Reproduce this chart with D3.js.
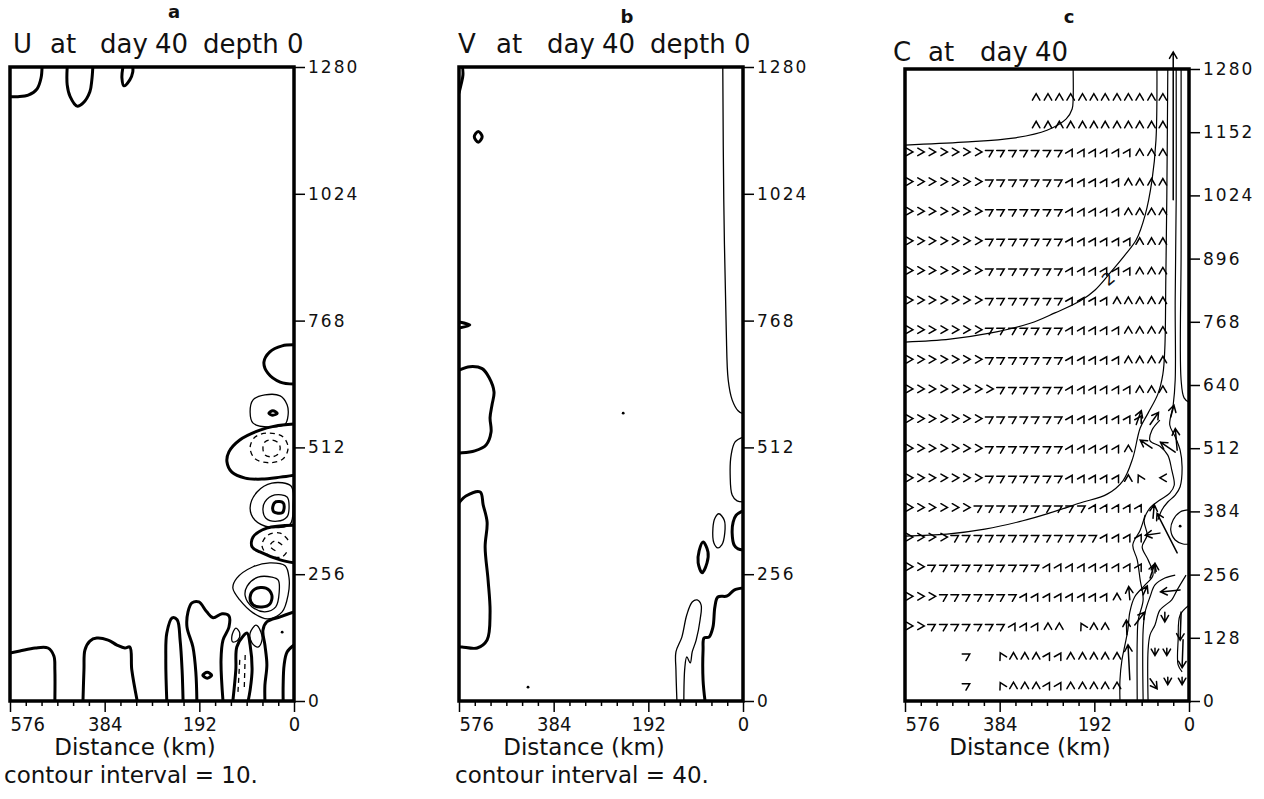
<!DOCTYPE html>
<html>
<head>
<meta charset="utf-8">
<script src="https://cdn.jsdelivr.net/npm/d3@7/dist/d3.min.js"></script>
<style>
  html, body { margin: 0; padding: 0; background: #fff; }
  svg text { font-family: "DejaVu Sans", "Liberation Sans", sans-serif; fill: #111; }
  .frame { fill: none; stroke: #000; stroke-width: 3.5; }
  .zero  { fill: none; stroke: #000; stroke-width: 3; stroke-linejoin: round; stroke-linecap: round; }
  .pos   { fill: none; stroke: #000; stroke-width: 1.3; stroke-linejoin: round; }
  .neg   { fill: none; stroke: #000; stroke-width: 1.3; stroke-dasharray: 5 4; }
  .ccon  { fill: none; stroke: #000; stroke-width: 1.2; stroke-linejoin: round; }
  .vec   { fill: none; stroke: #000; stroke-width: 1.5; stroke-linejoin: miter; stroke-linecap: round; }
  .axis path.domain { display: none; }
  .axis line { stroke: #000; stroke-width: 1.5; }
</style>
</head>
<body>
<svg id="fig" width="1264" height="799" viewBox="0 0 1264 799"></svg>
<script>
// ---------------- axis values (km) ----------------
const distDomain = [576, 0];
const depthDomain = [0, 1280];
const distTickLabels = [576, 384, 192, 0];
const depthTicksUV = [0, 256, 512, 768, 1024, 1280];
const depthTicksC = [0, 128, 256, 384, 512, 640, 768, 896, 1024, 1152, 1280];

// ---------------- U field: contour lines, points are [distance km, alongshore km] ----------------
const uZeroLines = [
  {closed: false, pts: [[576,1220],[560,1220],[539,1223],[521,1236],[513,1258],[511,1280]]},
  {closed: false, pts: [[460,1280],[460,1244],[454,1220],[440,1201],[428,1207],[414,1230],[410,1254],[408,1280]]},
  {closed: false, pts: [[347,1280],[349,1258],[345,1242],[333,1254],[327,1270],[327,1280]]},
  {closed: false, pts: [[0,719],[24,717],[49,705],[61,684],[53,662],[28,644],[0,640]]},
  {closed: true,  pts: [[51,581],[43,586],[34,581],[43,577]]},
  {closed: false, pts: [[0,559],[39,555],[69,547],[110,527],[132,503],[136,483],[126,462],[99,450],[65,448],[28,452],[0,456]]},
  {closed: true,  pts: [[22,400],[37,402],[43,392],[41,382],[24,380],[20,390]]},
  {closed: false, pts: [[0,355],[55,349],[83,331],[85,311],[69,301],[28,285],[0,279]]},
  {closed: true,  pts: [[57,228],[79,226],[89,210],[83,194],[65,190],[49,196],[45,214]]},
  {closed: false, pts: [[0,180],[28,170],[55,160],[63,143],[59,113],[55,73],[59,32],[59,0]]},
  {closed: false, pts: [[0,113],[14,99],[20,73],[22,32],[22,0]]},
  {closed: false, pts: [[124,0],[118,63],[116,109],[103,131],[95,137],[89,113],[85,63],[89,22],[93,0]]},
  {closed: false, pts: [[576,97],[556,101],[525,107],[499,107],[487,91],[485,63],[485,0]]},
  {closed: false, pts: [[428,0],[426,63],[424,103],[414,121],[400,127],[377,123],[359,113],[343,107],[333,109],[329,63],[318,0]]},
  {closed: false, pts: [[258,0],[260,83],[258,137],[247,168],[237,164],[231,123],[227,63],[225,0]]},
  {closed: false, pts: [[197,0],[199,57],[205,109],[217,149],[215,180],[207,198],[193,200],[177,180],[164,168],[146,176],[132,172],[132,149],[144,123],[148,83],[144,0]]},
  {closed: true,  pts: [[185,52],[176,58],[167,52],[176,46]]}
];
const uPositiveLines = [
  {closed: true, pts: [[14,598],[28,616],[59,618],[83,608],[89,583],[83,561],[49,553],[18,559],[12,577]]},
  {closed: true, pts: [[6,434],[45,440],[75,422],[89,390],[79,365],[49,351],[8,357],[2,396]]},
  {closed: true, pts: [[14,412],[39,416],[59,402],[63,386],[57,369],[34,363],[14,372],[10,392]]},
  {closed: true, pts: [[18,273],[49,279],[83,271],[116,248],[124,228],[110,204],[83,178],[53,166],[24,180],[12,214],[10,248]]},
  {closed: true, pts: [[45,250],[73,250],[95,232],[99,212],[85,190],[59,180],[37,190],[30,220],[32,244]]},
  {closed: true, pts: [[118,147],[110,137],[114,123],[124,119],[126,131]]},
  {closed: true, pts: [[77,153],[67,139],[65,123],[73,109],[85,117],[89,137]]}
];
const uNegativeLines = [
  {closed: true,  pts: [[12,511],[22,533],[51,541],[79,533],[89,511],[79,489],[51,481],[22,489]]},
  {closed: true,  pts: [[28,511],[34,523],[47,527],[59,523],[63,511],[59,497],[47,493],[34,497]]},
  {closed: false, pts: [[12,325],[28,339],[53,335],[65,315],[53,295],[24,291],[12,305]]},
  {closed: false, pts: [[24,315],[39,323],[49,313],[37,303]]},
  {closed: false, pts: [[110,83],[114,12]]},
  {closed: false, pts: [[99,93],[101,22]]}
];
const uDots = [[24,139]];

// ---------------- V field ----------------
const vZeroLines = [
  {closed: false, pts: [[576,1280],[570,1280],[568,1264],[572,1244],[576,1228]]},
  {closed: true,  pts: [[545,1139],[537,1150],[529,1139],[537,1128]]},
  {closed: false, pts: [[576,765],[554,759],[576,753]]},
  {closed: false, pts: [[576,668],[554,675],[529,671],[515,653],[505,624],[509,598],[513,572],[511,543],[521,517],[544,505],[570,501],[576,501]]},
  {closed: false, pts: [[576,400],[562,414],[533,422],[527,396],[519,361],[523,311],[517,244],[513,178],[519,123],[539,107],[570,109],[576,109]]},
  {closed: false, pts: [[0,384],[14,375],[20,361],[22,339],[18,315],[10,307],[0,305]]},
  {closed: true,  pts: [[81,321],[71,301],[73,279],[83,259],[91,279],[89,303]]},
  {closed: false, pts: [[0,228],[18,224],[32,212],[51,210],[57,190],[61,149],[69,129],[79,127],[81,103],[81,42],[77,0]]}
];
const vPositiveLines = [
  {closed: false, pts: [[41,1280],[39,1012],[34,750],[30,648],[22,608],[10,586],[0,580]]},
  {closed: false, pts: [[0,533],[16,523],[24,497],[26,456],[22,416],[12,404],[0,402]]},
  {closed: true,  pts: [[49,378],[38,365],[37,339],[43,315],[51,309],[59,319],[61,349],[57,369]]},
  {closed: false, pts: [[134,0],[136,63],[136,99],[124,129],[114,174],[103,200],[93,204],[85,194],[87,164],[95,123],[103,99],[107,77],[114,89],[118,67],[120,0]]}
];
const vDots = [[436,28],[243,581]];

// ---------------- C field: contours ----------------
const cLines = [
  {closed: false, pts: [[235,1280],[235,1220],[237,1199],[249,1179],[288,1156],[357,1140],[458,1132],[576,1126]]},
  {closed: false, pts: [[65,1280],[67,1136],[75,1055],[89,984],[107,934],[130,903],[160,867],[191,832],[221,810],[272,786],[322,765],[404,745],[485,733],[576,727]]},
  {closed: false, pts: [[43,1280],[45,1020],[47,857],[49,715],[53,662],[63,622],[83,583],[99,553],[114,492],[134,446],[166,419],[221,401],[282,381],[337,365],[414,348],[491,338],[576,334]]},
  {closed: false, pts: [[26,1280],[26,1015],[28,812],[28,650],[32,600],[39,559],[28,535],[18,508],[14,474],[18,434],[28,417],[43,403],[55,387],[63,367]]},
  {closed: false, pts: [[16,1280],[16,913],[16,650],[10,614],[0,605]]},
  {closed: false, pts: [[59,569],[75,549],[79,527],[59,516],[43,498],[35,468],[30,437],[39,421],[59,407],[79,391],[91,366],[85,336],[95,312],[83,286],[73,255],[89,235],[110,211],[120,180],[124,144],[130,113],[136,83],[140,43],[140,0]]},
  {closed: false, pts: [[89,377],[99,346],[114,316],[105,286],[99,245],[93,205],[103,164],[105,124],[105,0]]},
  {closed: false, pts: [[28,255],[49,249],[69,235],[79,211],[89,180],[93,144],[93,0]]},
  {closed: false, pts: [[6,255],[24,225],[35,205],[59,184],[69,154],[79,134],[83,103],[83,0]]},
  {closed: false, pts: [[0,194],[18,174],[22,124],[22,73],[14,59]]},
  {closed: false, pts: [[0,387],[18,383],[32,367],[37,346],[28,326],[12,318],[0,318]]}
];
const cDots = [[18,354]];
const cContourLabel = {text: "2", at: [156,846]};

// ---------------- C field: velocity vectors ----------------
// direction of each arrow head (degrees, counter-clockwise from +x on the page)
const headAngle = {">": 0, "7": 30, "1": 60, "A": 90, "N": 118, "<": 180, "v": 270};
const vecColumnsKm = [566, 543, 520, 496, 473, 450, 426, 403, 380, 356, 333, 310, 286, 263, 240, 216, 193, 170, 146, 123, 100, 76, 53];
const vecRowsKm = [32, 92, 152, 212, 272, 332, 392, 452, 512, 572, 632, 692, 752, 812, 872, 932, 992, 1052, 1112, 1168, 1224];
const vecRowCodes = [
  ".....7..NAAA11AAAAA....",
  ".....7..NAAA11AAAAA....",
  ">>7777777111AA.NAA.....",
  ">>>777777711111111A....",
  ">>7777777777111111111..",
  ">>>>77777777777771111..",
  ">>>>>>777777777711111..",
  ">>>>>>>777777711111AN.<",
  ">>>>>>>777777711111A...",
  ">>>>>>>77777771111111..",
  ">>>>>>>>777777111111AAA",
  ">>>>>>>777777711111AAAA",
  ">>>>>>>777777711111AAAA",
  ">>>>>>>77777771111AAAAA",
  ">>>>>>>7777777111111AAA",
  ">>>>>>>7777777111111AAA",
  ">>>>>>>777777711111AAAA",
  ">>>>>>>777777711111AAAA",
  ">>>>>>>7777777111111AAA",
  "...........AAAAAAAAAAAA",
  "...........AAAAAAAAAAAA"
];
// coastal jet vectors: [distance km, alongshore km, direction deg, length km]
const coastVectors = [
  [32,1015,90,300], [107,560,70,30], [79,560,55,30], [37,575,75,25],
  [75,512,146,29], [28,504,146,36], [24,508,95,44], [73,370,85,28],
  [59,340,188,30], [24,300,117,90], [79,249,72,30], [69,259,90,20],
  [120,205,95,27], [93,215,65,20], [18,225,186,40], [126,134,92,30],
  [110,154,52,33], [49,180,270,20], [16,180,268,57], [120,43,93,71],
  [69,107,270,15], [45,107,270,15], [12,124,268,57], [79,45,305,25],
  [43,48,270,15], [14,48,270,15]
];

// ---------------- layout ----------------
const W = 284;
const layout = {
  a: {left: 10,  top: 67, height: 634},
  b: {left: 459, top: 67, height: 634},
  c: {left: 905, top: 69, height: 632}
};

const svg = d3.select("#fig");

function makePanel(key, depthTicks) {
  const L = layout[key];
  const g = svg.append("g").attr("transform", `translate(${L.left},${L.top})`);
  const x = d3.scaleLinear().domain(distDomain).range([0, W]);
  const y = d3.scaleLinear().domain(depthDomain).range([L.height, 0]);

  g.append("clipPath").attr("id", "clip-" + key)
    .append("rect").attr("width", W).attr("height", L.height);

  // right axis
  const ay = g.append("g").attr("class", "axis")
    .attr("transform", `translate(${W},0)`)
    .call(d3.axisRight(y).tickValues(depthTicks).tickSize(11).tickPadding(3).tickFormat(d3.format("d")));
  ay.selectAll("text").style("font-size", "17px").style("letter-spacing", "2px");

  // bottom axis with minor ticks every 32 km
  const ax = g.append("g").attr("class", "axis")
    .attr("transform", `translate(0,${L.height})`)
    .call(d3.axisBottom(x).tickValues(d3.range(0, 577, 32)).tickSize(5)
      .tickFormat(d => distTickLabels.includes(d) ? d : ""));
  ax.selectAll(".tick line").attr("y2", d => distTickLabels.includes(d) ? 11 : 5);
  ax.selectAll(".tick text")
    .attr("y", 16)
    .style("font-size", "20px")
    .style("font-stretch", "condensed")
    .attr("text-anchor", d => d === 576 ? "start" : "middle");

  const body = g.append("g").attr("clip-path", `url(#clip-${key})`);
  return {g, body, x, y, L};
}

function drawLines(p, lines, cls) {
  const open = d3.line().x(d => p.x(d[0])).y(d => p.y(d[1])).curve(d3.curveCatmullRom.alpha(0.5));
  const closed = d3.line().x(d => p.x(d[0])).y(d => p.y(d[1])).curve(d3.curveCatmullRomClosed.alpha(0.5));
  p.body.selectAll(null).data(lines).join("path")
    .attr("class", cls)
    .attr("d", l => (l.closed ? closed : open)(l.pts));
}

function drawDots(p, dots) {
  p.body.selectAll(null).data(dots).join("circle")
    .attr("cx", d => p.x(d[0])).attr("cy", d => p.y(d[1])).attr("r", 1.4).attr("fill", "#000");
}

function drawFrame(p) {
  p.g.append("rect").attr("class", "frame").attr("width", W).attr("height", p.L.height);
}

function headPath(tx, ty, ang) {
  const armLen = 7.5, spread = 30 * Math.PI / 180;
  const back = ang + Math.PI;
  const a1 = back - spread, a2 = back + spread;
  return `M${tx + armLen * Math.cos(a1)},${ty - armLen * Math.sin(a1)}L${tx},${ty}L${tx + armLen * Math.cos(a2)},${ty - armLen * Math.sin(a2)}`;
}

// ---------- panel a ----------
const pa = makePanel("a", depthTicksUV);
drawLines(pa, uPositiveLines, "pos");
drawLines(pa, uNegativeLines, "neg");
drawLines(pa, uZeroLines, "zero");
drawDots(pa, uDots);
drawFrame(pa);

// ---------- panel b ----------
const pb = makePanel("b", depthTicksUV);
drawLines(pb, vPositiveLines, "pos");
drawLines(pb, vZeroLines, "zero");
drawDots(pb, vDots);
drawFrame(pb);

// ---------- panel c ----------
const pc = makePanel("c", depthTicksC);
drawLines(pc, cLines, "ccon");
drawDots(pc, cDots);

// gridded arrow heads
const gridPts = [];
vecRowCodes.forEach((row, i) => {
  [...row].forEach((ch, j) => {
    if (headAngle[ch] !== undefined) gridPts.push({d: vecColumnsKm[j], k: vecRowsKm[i], a: headAngle[ch]});
  });
});
pc.g.append("g").selectAll("path").data(gridPts).join("path")
  .attr("class", "vec")
  .attr("d", v => {
    const a = v.a * Math.PI / 180;
    const cx = pc.x(v.d), cy = pc.y(v.k);
    return headPath(cx + 3 * Math.cos(a), cy - 3 * Math.sin(a), a);
  });

// longer coastal vectors with shafts
const kmToPx = Math.abs(pc.x(100) - pc.x(0)) / 100;
pc.g.append("g").selectAll("path").data(coastVectors).join("path")
  .attr("class", "vec")
  .attr("d", v => {
    const a = v[2] * Math.PI / 180;
    const bx = pc.x(v[0]), by = pc.y(v[1]);
    const len = v[3] * kmToPx;
    const tx = bx + len * Math.cos(a), ty = by - len * Math.sin(a);
    return `M${bx},${by}L${tx},${ty}` + headPath(tx, ty, a);
  });

pc.g.append("text")
  .attr("transform", `translate(${pc.x(cContourLabel.at[0])},${pc.y(cContourLabel.at[1])}) rotate(-40)`)
  .attr("text-anchor", "middle")
  .style("font-size", "17px")
  .text(cContourLabel.text);

drawFrame(pc);

// ---------------- titles and labels ----------------
function title(words, xs, baseline) {
  const t = svg.append("text").attr("y", baseline).style("font-size", "26px");
  words.forEach((w, i) => t.append("tspan").attr("x", xs[i]).text(w));
}
title(["U", "at", "day", "40", "depth", "0"], [13, 50, 100, 155, 203, 287], 53);
title(["V", "at", "day", "40", "depth", "0"], [458, 496, 547, 602, 650, 734], 53);
title(["C", "at", "day", "40"], [893, 928, 980, 1035], 61);

[["a", 174, 18], ["b", 627, 23], ["c", 1069, 23]].forEach(([s, x, yy]) => {
  svg.append("text").attr("x", x).attr("y", yy).attr("text-anchor", "middle")
    .style("font-size", "18px").style("font-weight", "bold").text(s);
});

function xlabel(cx, baseline, s) {
  svg.append("text").attr("x", cx).attr("y", baseline).attr("text-anchor", "middle")
    .style("font-size", "23px").text(s);
}
xlabel(135, 755, "Distance (km)");
xlabel(584, 755, "Distance (km)");
xlabel(1030, 755, "Distance (km)");

svg.append("text").attr("x", 4).attr("y", 783).style("font-size", "23px").text("contour interval = 10.");
svg.append("text").attr("x", 455).attr("y", 783).style("font-size", "23px").text("contour interval = 40.");
</script>
</body>
</html>
